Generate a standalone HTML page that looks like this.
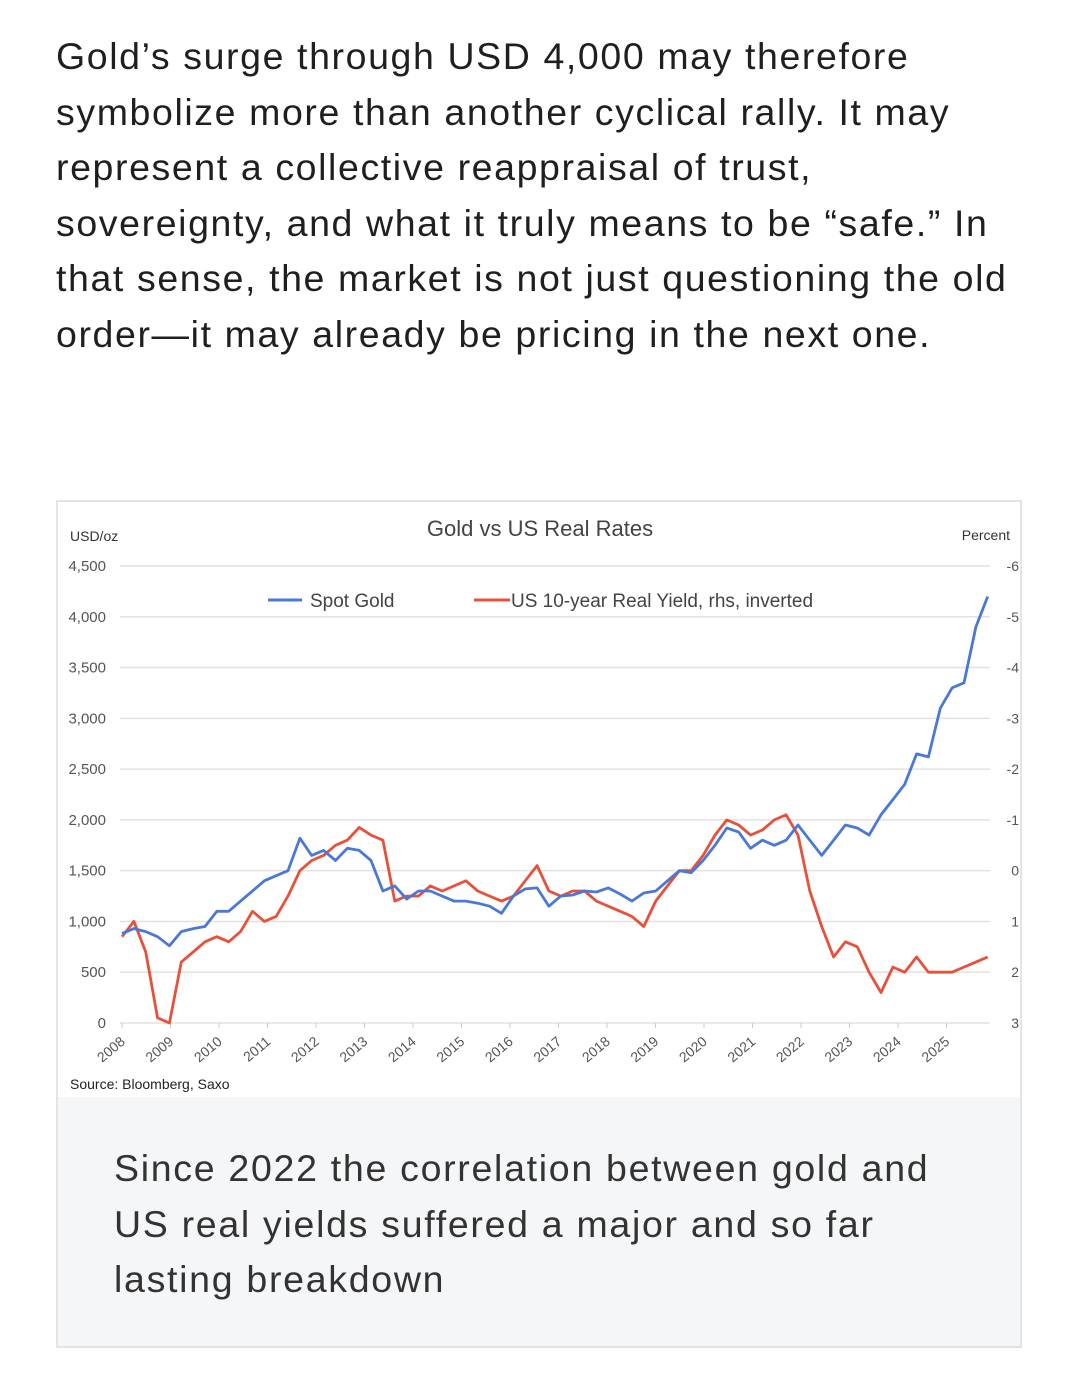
<!DOCTYPE html>
<html><head><meta charset="utf-8"><style>
body{margin:0;width:1080px;height:1387px;background:#fff;font-family:"Liberation Sans",sans-serif;position:relative;overflow:hidden}
#para{position:absolute;left:56px;top:29px;width:1010px;font-size:37.5px;line-height:55.5px;color:#1f1f1f;margin:0;letter-spacing:1.6px;white-space:nowrap}
#box{position:absolute;left:56px;top:500px;width:966px;height:848px;border:2px solid #e4e4e4;box-sizing:border-box}
#cap{position:absolute;left:58px;top:1097px;width:962px;height:249px;background:#f5f6f8}
#cap p{margin:0;position:absolute;left:56px;top:44px;font-size:37.5px;line-height:55.5px;color:#333;letter-spacing:1.7px;white-space:nowrap}
svg{position:absolute;left:0;top:0}
</style></head><body>
<p id="para">Gold’s surge through USD 4,000 may therefore<br>symbolize more than another cyclical rally. It may<br>represent a collective reappraisal of trust,<br>sovereignty, and what it truly means to be “safe.” In<br>that sense, the market is not just questioning the old<br>order—it may already be pricing in the next one.</p>
<div id="box"></div>
<div id="cap"><p>Since 2022 the correlation between gold and<br>US real yields suffered a major and so far<br>lasting breakdown</p></div>
<svg id="chart" width="1080" height="1387"></svg>
<script>
const years=[2008,2009,2010,2011,2012,2013,2014,2015,2016,2017,2018,2019,2020,2021,2022,2023,2024,2025];
const leftTicks=[0,500,1000,1500,2000,2500,3000,3500,4000,4500];
const rightTicks=[-6,-5,-4,-3,-2,-1,0,1,2,3];
const gold=[880,930,900,850,760,900,930,950,1100,1100,1200,1300,1400,1450,1500,1820,1650,1700,1600,1720,1700,1600,1300,1350,1220,1300,1300,1250,1200,1200,1180,1150,1080,1250,1320,1330,1150,1250,1260,1300,1290,1330,1270,1200,1280,1300,1400,1500,1480,1600,1750,1920,1880,1720,1800,1750,1800,1950,1800,1650,1800,1950,1920,1850,2050,2200,2350,2650,2620,3100,3300,3350,3900,4200];
const realYield=[1.3,1.0,1.6,2.9,3.0,1.8,1.6,1.4,1.3,1.4,1.2,0.8,1.0,0.9,0.5,0.0,-0.2,-0.3,-0.5,-0.6,-0.85,-0.7,-0.6,0.6,0.5,0.5,0.3,0.4,0.3,0.2,0.4,0.5,0.6,0.5,0.2,-0.1,0.4,0.5,0.4,0.4,0.6,0.7,0.8,0.9,1.1,0.6,0.3,0.0,0.0,-0.3,-0.7,-1.0,-0.9,-0.7,-0.8,-1.0,-1.1,-0.7,0.4,1.1,1.7,1.4,1.5,2.0,2.4,1.9,2.0,1.7,2.0,2.0,2.0,1.9,1.8,1.7];
const NS='http://www.w3.org/2000/svg',svg=document.getElementById('chart');
const xL=120,xR=990,yB=1023,yT=566;
const xYear=t=>122+48.5*(t-2008);
const yGold=v=>yB-(v/4500)*(yB-yT);
const yRate=v=>yT+(v+6)/9*(yB-yT);
const tOf=i=>2008+i*(17.85/(gold.length-1));
function mk(tag,a,txt){const e=document.createElementNS(NS,tag);for(const k in a)e.setAttribute(k,a[k]);if(txt!==undefined)e.textContent=txt;svg.appendChild(e);return e;}
let e=mk('text',{x:540,y:536,'text-anchor':'middle','font-size':22,fill:'#444'},'Gold vs US Real Rates');


e=mk('text',{x:70,y:541,'font-size':14,fill:'#333'},'USD/oz');


e=mk('text',{x:1010,y:540,'text-anchor':'end','font-size':14,fill:'#333'},'Percent');


leftTicks.forEach(v=>{const y=yGold(v);
 e=mk('line',{x1:xL,x2:xR,y1:y,y2:y,stroke:'#e2e2e2','stroke-width':1.5});
 
 
 e=mk('text',{x:106,y:y+5,'text-anchor':'end','font-size':15,fill:'#555'},v.toLocaleString('en-US'));
 
 });
rightTicks.forEach(v=>{const y=yRate(v);
 e=mk('text',{x:1019,y:y+5,'text-anchor':'end','font-size':14,fill:'#555'},String(v));
 
 });
years.forEach(yr=>{const x=xYear(yr);
 e=mk('line',{x1:x,x2:x,y1:yB,y2:yB+5,stroke:'#ccc'});
 
 
 e=mk('text',{x:x+4,y:yB+20,'text-anchor':'end','font-size':14,fill:'#555',transform:`rotate(-40 ${x+4} ${yB+20})`},String(yr));
 
 });
e=mk('text',{x:70,y:1089,'font-size':14,fill:'#222'},'Source: Bloomberg, Saxo');


e=mk('path',{d:realYield.map((v,i)=>(i?'L':'M')+xYear(tOf(i)).toFixed(1)+' '+yRate(v).toFixed(1)).join(''),fill:'none',stroke:'#e8503a','stroke-width':2.8,'stroke-linejoin':'round'});


e=mk('path',{d:gold.map((v,i)=>(i?'L':'M')+xYear(tOf(i)).toFixed(1)+' '+yGold(v).toFixed(1)).join(''),fill:'none',stroke:'#4a78d8','stroke-width':2.8,'stroke-linejoin':'round'});


e=mk('line',{x1:268,x2:302,y1:600,y2:600,stroke:'#4a78d8','stroke-width':3});


e=mk('text',{x:310,y:607,'font-size':19,fill:'#444'},'Spot Gold');


e=mk('line',{x1:474,x2:510,y1:600,y2:600,stroke:'#e8503a','stroke-width':3});


e=mk('text',{x:511,y:607,'font-size':19,fill:'#444'},'US 10-year Real Yield, rhs, inverted');


</script>
</body></html>
